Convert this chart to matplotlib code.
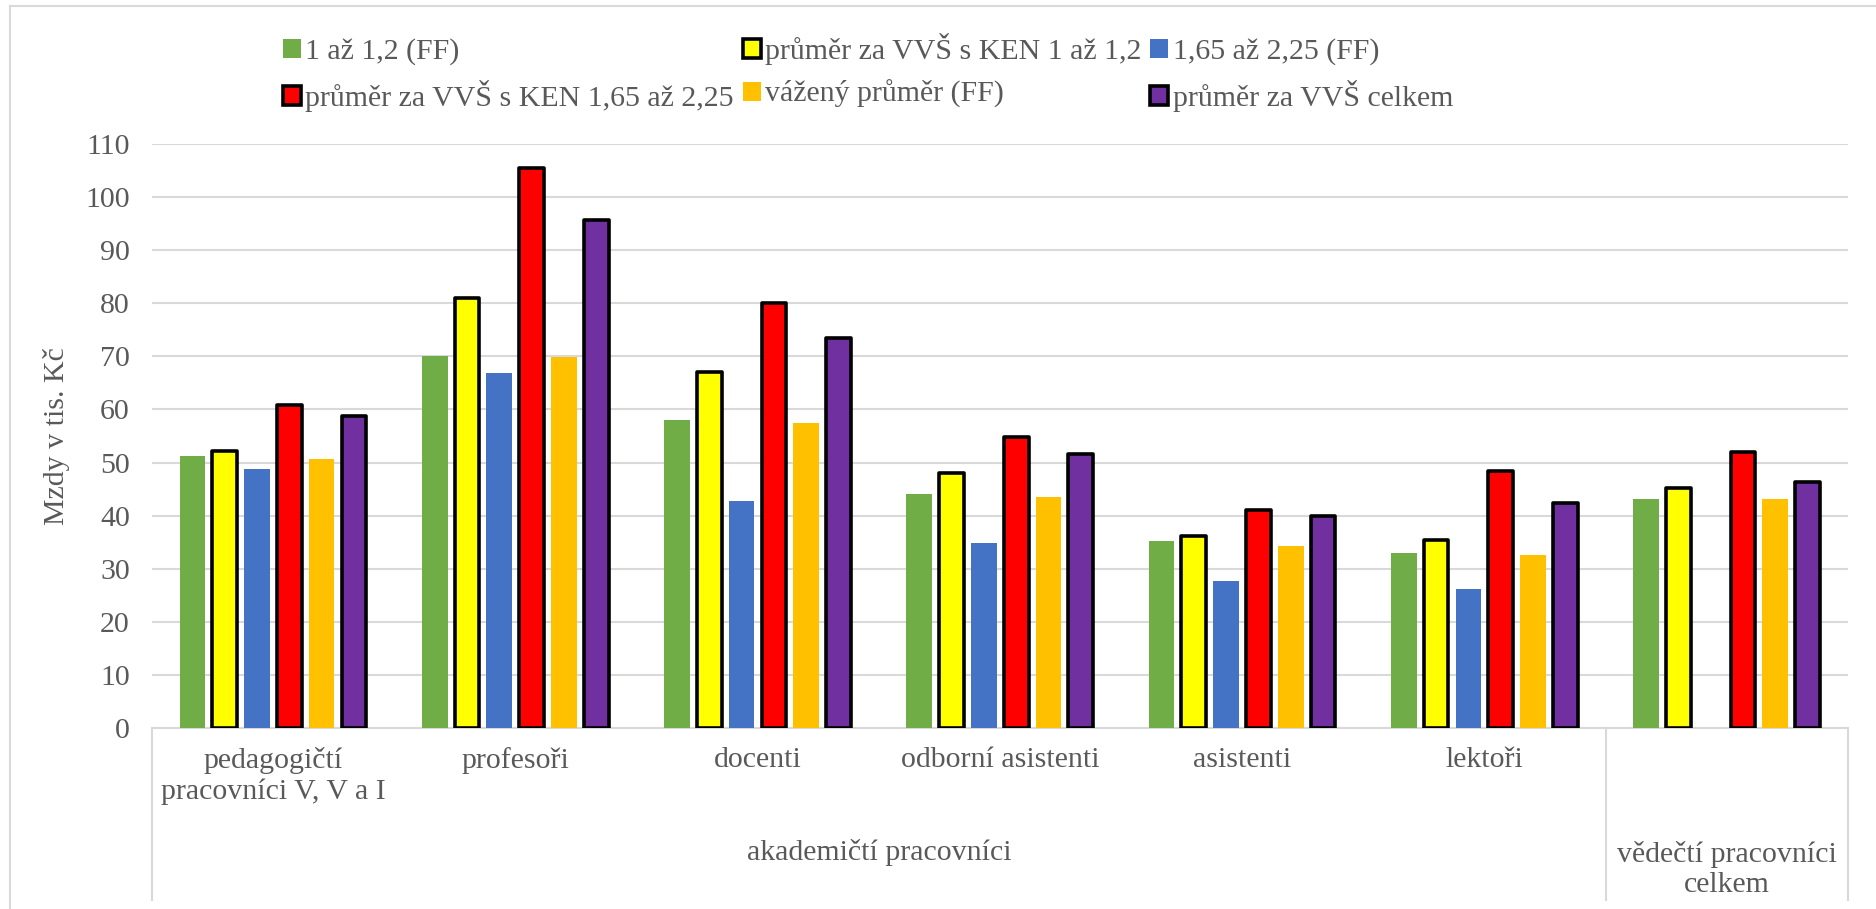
import numpy as np
import matplotlib
matplotlib.use('Agg')
import matplotlib.pyplot as plt
from matplotlib.lines import Line2D

categories = ['pedagogičtí\npracovníci V, V a I', 'profesoři', 'docenti',
              'odborní asistenti', 'asistenti', 'lektoři', '']
groups = ['akademičtí pracovníci', 'vědečtí pracovníci\ncelkem']

series_names = ['1 až 1,2 (FF)', 'průměr za VVŠ s KEN 1 až 1,2', '1,65 až 2,25 (FF)',
                'průměr za VVŠ s KEN 1,65 až 2,25', 'vážený průměr (FF)', 'průměr za VVŠ celkem']

ff_1_12 = [51.3, 70.0, 58.0, 44.1, 35.2, 32.9, 43.2]
vvs_1_12 = [52.2, 80.9, 67.0, 48.1, 36.2, 35.4, 45.2]
ff_165_225 = [48.8, 66.8, 42.7, 34.9, 27.7, 26.2, None]
vvs_165_225 = [60.9, 105.4, 80.1, 54.8, 41.0, 48.4, 52.0]
ff_vazeny = [50.6, 69.9, 57.5, 43.6, 34.3, 32.6, 43.2]
vvs_celkem = [58.8, 95.7, 73.5, 51.6, 40.0, 42.4, 46.4]

series = [ff_1_12, vvs_1_12, ff_165_225, vvs_165_225, ff_vazeny, vvs_celkem]
colors = ['#70ad47', '#ffff00', '#4472c4', '#ff0000', '#ffc000', '#7030a0']
outlined = [False, True, False, True, False, True]

text_col = '#595959'
grid_col = '#d9d9d9'
fs = 21.5
plt.rcParams['font.family'] = ['Liberation Serif', 'DejaVu Serif']
plt.rcParams['font.size'] = fs

W, H = 1876, 909
fig = plt.figure(figsize=(W / 100, H / 100), dpi=100)
left, right, zero_y, top_y = 152, 1848, 728, 144
ax = fig.add_axes([left / W, 1 - zero_y / H, (right - left) / W, (zero_y - top_y) / H])

x = np.arange(len(categories))
slot = 0.1333
handles = []
for i, (vals, c, outl) in enumerate(zip(series, colors, outlined)):
    v = np.array([np.nan if a is None else a for a in vals], dtype=float)
    if outl:
        b = ax.bar(x + (i - 2.5) * slot, v, width=0.102, color=c, edgecolor='black',
                   linewidth=2.6, joinstyle='round', zorder=3, label=series_names[i])
    else:
        b = ax.bar(x + (i - 2.5) * slot, v, width=0.106, color=c, edgecolor='none',
                   zorder=3, label=series_names[i])
    handles.append(b)

ax.set_xlim(-0.5, len(categories) - 0.5)
ax.set_ylim(0, 110)
ax.set_yticks(np.arange(0, 111, 10))
ax.grid(axis='y', color=grid_col, linewidth=1.5, zorder=0)
ax.set_axisbelow(True)
for s in ['top', 'right', 'left']:
    ax.spines[s].set_visible(False)
ax.spines['bottom'].set_color(grid_col)
ax.spines['bottom'].set_linewidth(1.5)
ax.tick_params(axis='y', length=0, pad=16, colors=text_col, labelsize=fs)
ax.set_xticks(x)
ax.set_xticklabels(categories, color=text_col, fontsize=fs, linespacing=1.2)
ax.tick_params(axis='x', length=0, pad=14)

ax.set_ylabel('Mzdy v tis. Kč', color=text_col, fontsize=fs, va='center')
ax.yaxis.set_label_coords((56 - left) / (right - left), 0.5)

# second level of category axis
span = zero_y - top_y
bot = -(900 - zero_y) / span
trans = ax.get_xaxis_transform()
for bx in [-0.5, 5.5, 6.5]:
    ax.plot([bx, bx], [0, bot], transform=trans, color=grid_col, linewidth=1.5, clip_on=False)
ax.text(2.5, -(852 - zero_y) / span, groups[0], transform=trans, ha='center', va='center',
        color=text_col, fontsize=fs)
ax.text(6.0, -(870 - zero_y) / span, groups[1], transform=trans, ha='center', va='center',
        color=text_col, fontsize=fs, linespacing=1.2)

# chart frame (top and left edges visible)
fig.add_artist(Line2D([10 / W, 1], [1 - 6 / H, 1 - 6 / H], color=grid_col, linewidth=1.5))
fig.add_artist(Line2D([10 / W, 10 / W], [0, 1 - 6 / H], color=grid_col, linewidth=1.5))

order = [0, 3, 1, 4, 2, 5]
leg = fig.legend([handles[k] for k in order], [series_names[k] for k in order],
                 loc='upper left', bbox_to_anchor=(256 / W, 1 - 6 / H), ncol=3,
                 frameon=False, fontsize=fs, handlelength=0.6, handleheight=0.6,
                 handletextpad=0.15, columnspacing=0.3, labelspacing=0.5)
for t in leg.get_texts():
    t.set_color(text_col)

fig.savefig('out.png', dpi=100)
